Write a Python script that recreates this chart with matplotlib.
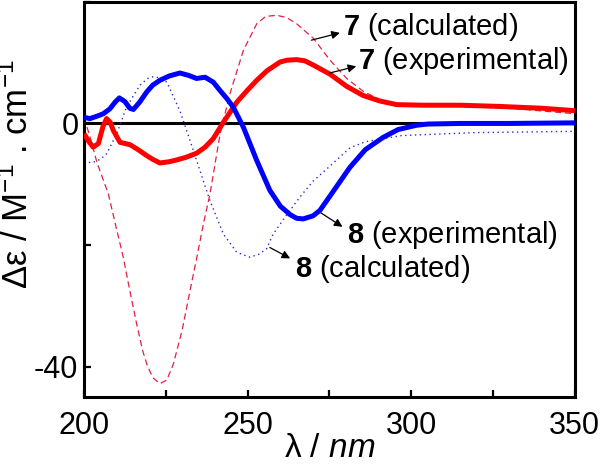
import matplotlib
matplotlib.use("Agg")
import matplotlib.pyplot as plt
from matplotlib.ticker import MultipleLocator

plt.rcParams['font.family'] = ['Liberation Sans', 'DejaVu Sans']
plt.rcParams['mathtext.fontset'] = 'custom'
plt.rcParams['mathtext.rm'] = 'Liberation Sans'
plt.rcParams['mathtext.it'] = 'Liberation Sans:italic'
plt.rcParams['mathtext.bf'] = 'Liberation Sans:bold'
plt.rcParams['mathtext.default'] = 'regular'
plt.rcParams['axes.unicode_minus'] = False

# 8 experimental (blue solid)
wl_8exp = [200, 201.8, 204, 205.9, 207.9, 209.5, 210.8, 212.5, 214, 215.1, 217, 219.2, 221, 223.2, 226,
           229.3, 232, 234.4, 237.0, 239.5, 241.6, 243.5, 245.6, 248.7, 252.8, 256.8, 260, 263, 265,
           267, 270, 272.1, 276, 281.3, 286, 291.4, 296, 301.6, 305, 315, 330, 350]
de_8exp = [1.0, 0.8, 1.2, 1.6, 2.4, 3.5, 4.2, 3.6, 2.5, 2.3, 3.5, 5.2, 6.3, 7.1, 7.8,
           8.3, 7.9, 7.4, 7.6, 6.8, 5.4, 4.2, 2.7, -0.6, -6.1, -11.0, -13.6, -15.0, -15.6,
           -15.7, -15.2, -14.3, -11.3, -7.2, -4.3, -2.3, -1.0, -0.3, -0.1, 0.0, 0.0, 0.1]

# 7 experimental (red solid)
wl_7exp = [200, 201.5, 202.8, 204.4, 205.8, 206.9, 208, 209, 211, 214.1, 216.5, 219.2, 221, 223.2,
           226, 228.3, 231, 234.4, 237, 239.5, 242.6, 246.7, 250, 252.8, 256, 259.9, 262, 265,
           267.5, 270.1, 275.2, 280.3, 285.3, 290.4, 295.5, 303.6, 315, 327, 340, 350]
de_7exp = [-1.7, -3.0, -3.9, -3.3, -0.5, 0.8, 0.2, -1.2, -3.1, -3.5, -4.3, -5.3, -5.9, -6.5,
           -6.3, -6.0, -5.6, -4.9, -3.9, -2.5, 0.2, 3.5, 5.5, 7.1, 8.7, 10.1, 10.4, 10.5,
           10.3, 9.6, 8.1, 6.1, 4.6, 3.7, 3.1, 3.0, 3.0, 2.8, 2.5, 2.1]

# 7 calculated (red dashed)
wl_7calc = [200, 202, 204, 207.4, 210, 212, 214, 216.1, 218, 219.2, 221, 223.2, 225.3, 227.3, 230,
            232.4, 234.5, 236.5, 238.5, 241.6, 244.6, 248.7, 252.8, 255.5, 258.9, 262, 265,
            270.1, 275.2, 280.3, 285.3, 290.4, 295.5, 303, 315, 330, 350]
de_7calc = [1.0, -2.5, -6.5, -11.5, -17.5, -22.0, -27.5, -33.0, -37.5, -39.6, -41.8, -42.8, -42.2, -39.6, -34.0,
            -27.5, -22.0, -16.5, -11.6, -1.7, 4.9, 12.0, 16.4, 17.6, 17.8, 17.4, 16.4,
            14.0, 10.4, 7.4, 5.3, 3.9, 3.2, 2.9, 2.8, 2.5, 1.6]

# 8 calculated (blue dotted)
wl_8calc = [200, 202.8, 205, 206.9, 210, 213, 217.1, 219.5, 221.2, 223, 225.3, 229.3, 232.4, 235.4,
            238.5, 242.6, 246.7, 250.7, 253.5, 255.8, 257.8, 262, 266, 270, 275.2, 281.3, 286,
            290.4, 297, 305.7, 320, 350]
de_8calc = [-6.4, -6.4, -5.9, -5.0, -1.7, 2.7, 6.3, 7.4, 7.7, 7.5, 6.8, 2.1, -2.8, -7.7,
            -12.7, -18.2, -21.2, -22.0, -21.5, -20.6, -18.2, -15.0, -12.1, -9.5, -7.0, -4.0, -3.0,
            -2.6, -2.0, -1.8, -1.5, -1.3]

fig = plt.figure(figsize=(6.0, 4.66), dpi=100)
ax = fig.add_axes([0.14, 0.148, 0.818, 0.848])

ax.axhline(0, color='black', lw=2.2, zorder=1)
ax.plot(wl_7calc, de_7calc, color='#e3203f', lw=0.9, ls=(0, (5, 3)), zorder=2)
ax.plot(wl_8calc, de_8calc, color='#2a2ad0', lw=1.0, ls=(0, (1, 2.5)), zorder=2)
ax.plot(wl_7exp, de_7exp, color='#ff0000', lw=3.6, zorder=3, solid_capstyle='butt')
ax.plot(wl_8exp, de_8exp, color='#0000ff', lw=3.6, zorder=4, solid_capstyle='butt')

ax.set_xlim(200, 350)
ax.set_ylim(-45, 20)
ax.xaxis.set_major_locator(MultipleLocator(50))
ax.xaxis.set_minor_locator(MultipleLocator(25))
ax.yaxis.set_major_locator(MultipleLocator(40))
ax.yaxis.set_minor_locator(MultipleLocator(20))
ax.tick_params(which='both', direction='in', length=5, width=1.6, labelsize=22)
ax.tick_params(axis='x', pad=10)
ax.tick_params(axis='y', pad=4)
for s in ax.spines.values():
    s.set_linewidth(2.2)

ax.set_xlabel(r'λ / $\mathit{nm}$', fontsize=24)
ax.xaxis.set_label_coords(0.5, -0.092)
ax.set_ylabel(r'Δε / M$^{-1}$ . cm$^{-1}$', fontsize=25)
ax.yaxis.set_label_coords(-0.1, 0.563)

arrow = dict(arrowstyle='-|>', color='black', lw=0.9, mutation_scale=12, shrinkA=0, shrinkB=0)
fs = 21
ax.text(279.1, 15.8, r'$\mathbf{7}$ (calculated)', fontsize=fs, va='center', ha='left')
ax.annotate('', xy=(278.2, 14.9), xytext=(269.5, 13.7), arrowprops=arrow)
ax.text(283.6, 10.2, r'$\mathbf{7}$ (experimental)', fontsize=fs, va='center', ha='left')
ax.annotate('', xy=(283.2, 9.4), xytext=(275.1, 8.3), arrowprops=arrow)
ax.text(280.5, -18.3, r'$\mathbf{8}$ (experimental)', fontsize=fs, va='center', ha='left')
ax.annotate('', xy=(279.0, -17.0), xytext=(272.1, -14.6), arrowprops=arrow)
ax.text(264.4, -24.0, r'$\mathbf{8}$ (calculated)', fontsize=fs, va='center', ha='left')
ax.annotate('', xy=(263.0, -22.2), xytext=(256.8, -20.4), arrowprops=arrow)

fig.savefig('out.png', dpi=100)
